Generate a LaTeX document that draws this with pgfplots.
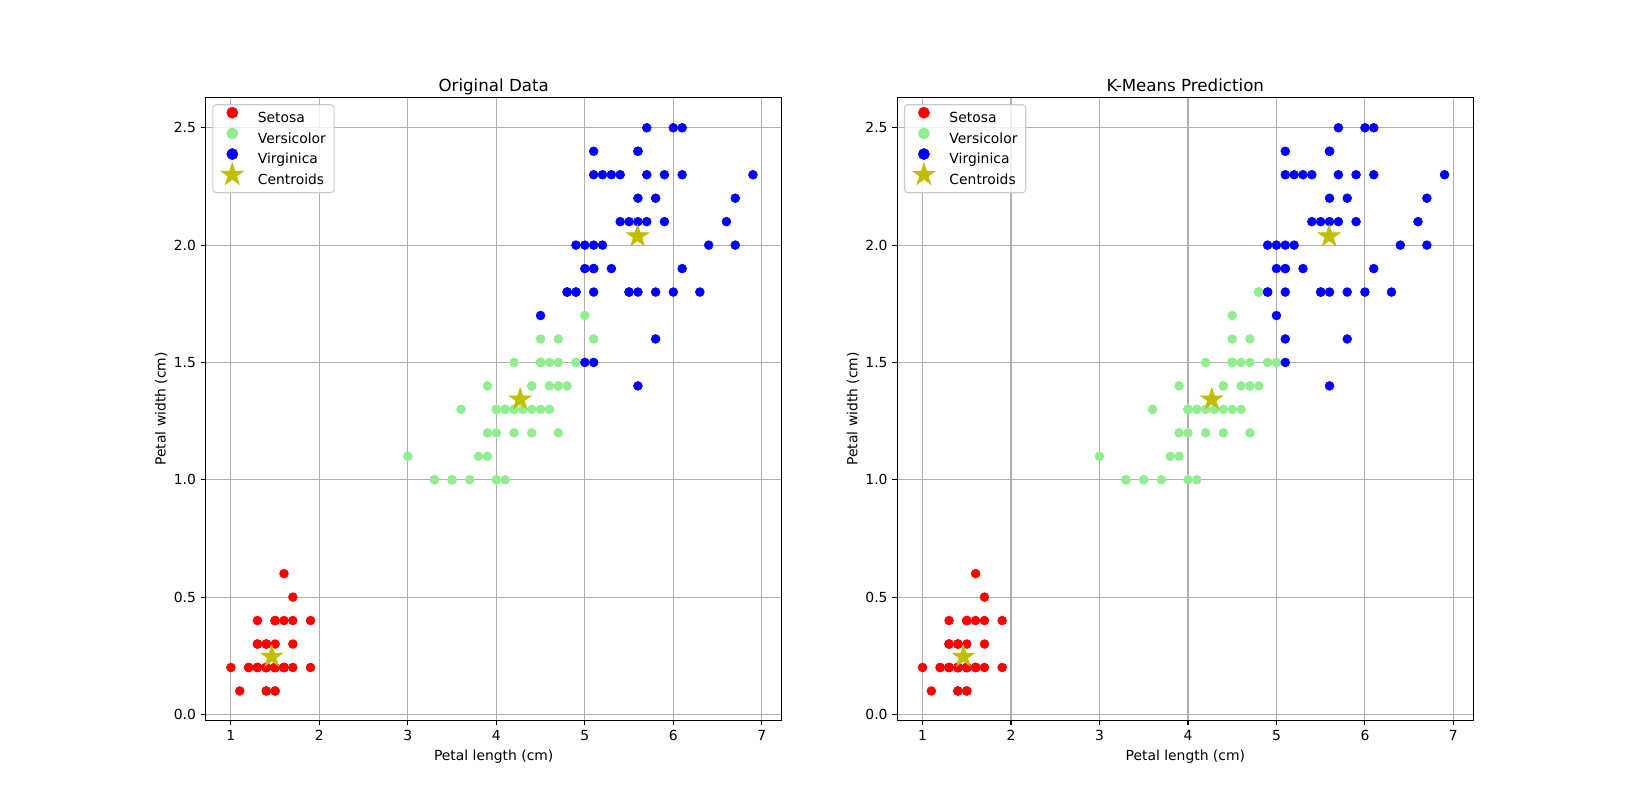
\documentclass[border=0pt]{standalone}
\usepackage{fontspec}
\setmainfont{DejaVu Sans}
\usepackage{pgfplots}
\pgfplotsset{compat=1.18}
\usepackage{pgfplotstable}

\definecolor{mplred}{rgb}{1,0,0}
\definecolor{lgreen}{HTML}{90EE90}
\definecolor{mplblue}{rgb}{0,0,1}
\definecolor{mplolive}{rgb}{0.75,0.75,0}
\definecolor{gridgray}{HTML}{B0B0B0}

\pgfdeclareplotmark{fstar}{%
  \pgfpathmoveto{\pgfqpointpolar{90}{\pgfplotmarksize}}%
  \pgfpathlineto{\pgfqpointpolar{126}{0.382\pgfplotmarksize}}%
  \pgfpathlineto{\pgfqpointpolar{162}{\pgfplotmarksize}}%
  \pgfpathlineto{\pgfqpointpolar{198}{0.382\pgfplotmarksize}}%
  \pgfpathlineto{\pgfqpointpolar{234}{\pgfplotmarksize}}%
  \pgfpathlineto{\pgfqpointpolar{270}{0.382\pgfplotmarksize}}%
  \pgfpathlineto{\pgfqpointpolar{306}{\pgfplotmarksize}}%
  \pgfpathlineto{\pgfqpointpolar{342}{0.382\pgfplotmarksize}}%
  \pgfpathlineto{\pgfqpointpolar{18}{\pgfplotmarksize}}%
  \pgfpathlineto{\pgfqpointpolar{54}{0.382\pgfplotmarksize}}%
  \pgfpathclose
  \pgfusepathqfillstroke
}

\pgfplotstableread{
x y
1.4 0.2
1.4 0.2
1.3 0.2
1.5 0.2
1.4 0.2
1.7 0.4
1.4 0.3
1.5 0.2
1.4 0.2
1.5 0.1
1.5 0.2
1.6 0.2
1.4 0.1
1.1 0.1
1.2 0.2
1.5 0.4
1.3 0.4
1.4 0.3
1.7 0.3
1.5 0.3
1.7 0.2
1.5 0.4
1.0 0.2
1.7 0.5
1.9 0.2
1.6 0.2
1.6 0.4
1.5 0.2
1.4 0.2
1.6 0.2
1.6 0.2
1.5 0.4
1.5 0.1
1.4 0.2
1.5 0.2
1.2 0.2
1.3 0.2
1.4 0.1
1.3 0.2
1.5 0.2
1.3 0.3
1.3 0.3
1.3 0.2
1.6 0.6
1.9 0.4
1.4 0.3
1.6 0.2
1.4 0.2
1.5 0.2
1.4 0.2
}\setosa

\pgfplotstableread{
x y
4.7 1.4
4.5 1.5
4.9 1.5
4.0 1.3
4.6 1.5
4.5 1.3
4.7 1.6
3.3 1.0
4.6 1.3
3.9 1.4
3.5 1.0
4.2 1.5
4.0 1.0
4.7 1.4
3.6 1.3
4.4 1.4
4.5 1.5
4.1 1.0
4.5 1.5
3.9 1.1
4.8 1.8
4.0 1.3
4.9 1.5
4.7 1.2
4.3 1.3
4.4 1.4
4.8 1.4
5.0 1.7
4.5 1.5
3.5 1.0
3.8 1.1
3.7 1.0
3.9 1.2
5.1 1.6
4.5 1.5
4.5 1.6
4.7 1.5
4.4 1.3
4.1 1.3
4.0 1.3
4.4 1.2
4.6 1.4
4.0 1.2
3.3 1.0
4.2 1.3
4.2 1.2
4.2 1.3
4.3 1.3
3.0 1.1
4.1 1.3
}\versicolor

\pgfplotstableread{
x y
6.0 2.5
5.1 1.9
5.9 2.1
5.6 1.8
5.8 2.2
6.6 2.1
4.5 1.7
6.3 1.8
5.8 1.8
6.1 2.5
5.1 2.0
5.3 1.9
5.5 2.1
5.0 2.0
5.1 2.4
5.3 2.3
5.5 1.8
6.7 2.2
6.9 2.3
5.0 1.5
5.7 2.3
4.9 2.0
6.7 2.0
4.9 1.8
5.7 2.1
6.0 1.8
4.8 1.8
4.9 1.8
5.6 2.1
5.8 1.6
6.1 1.9
6.4 2.0
5.6 2.2
5.1 1.5
5.6 1.4
6.1 2.3
5.6 2.4
5.5 1.8
4.8 1.8
5.4 2.1
5.6 2.4
5.1 2.3
5.1 1.9
5.9 2.3
5.7 2.5
5.2 2.3
5.0 1.9
5.2 2.0
5.4 2.3
5.1 1.8
}\virginica

\pgfplotstableread{
x y
4.7 1.4
4.5 1.5
4.9 1.5
4.0 1.3
4.6 1.5
4.5 1.3
4.7 1.6
3.3 1.0
4.6 1.3
3.9 1.4
3.5 1.0
4.2 1.5
4.0 1.0
4.7 1.4
3.6 1.3
4.4 1.4
4.5 1.5
4.1 1.0
4.5 1.5
3.9 1.1
4.8 1.8
4.0 1.3
4.9 1.5
4.7 1.2
4.3 1.3
4.4 1.4
4.8 1.4
4.5 1.5
3.5 1.0
3.8 1.1
3.7 1.0
3.9 1.2
4.5 1.5
4.5 1.6
4.7 1.5
4.4 1.3
4.1 1.3
4.0 1.3
4.4 1.2
4.6 1.4
4.0 1.2
3.3 1.0
4.2 1.3
4.2 1.2
4.2 1.3
4.3 1.3
3.0 1.1
4.1 1.3
4.5 1.7
5.0 1.5
4.8 1.8
4.8 1.8
}\kmgreen

\pgfplotstableread{
x y
5.0 1.7
5.1 1.6
6.0 2.5
5.1 1.9
5.9 2.1
5.6 1.8
5.8 2.2
6.6 2.1
6.3 1.8
5.8 1.8
6.1 2.5
5.1 2.0
5.3 1.9
5.5 2.1
5.0 2.0
5.1 2.4
5.3 2.3
5.5 1.8
6.7 2.2
6.9 2.3
5.7 2.3
4.9 2.0
6.7 2.0
4.9 1.8
5.7 2.1
6.0 1.8
4.9 1.8
5.6 2.1
5.8 1.6
6.1 1.9
6.4 2.0
5.6 2.2
5.1 1.5
5.6 1.4
6.1 2.3
5.6 2.4
5.5 1.8
5.4 2.1
5.6 2.4
5.1 2.3
5.1 1.9
5.9 2.3
5.7 2.5
5.2 2.3
5.0 1.9
5.2 2.0
5.4 2.3
5.1 1.8
}\kmblue

\pgfplotstableread{
x y
1.462 0.246
4.26923 1.34231
5.59583 2.0375
}\centroids

\pgfplotsset{
 legimg/.style={legend image code/.code={%
    \path[draw=none, fill=none] (0pt,3.6pt) -- (16pt,3.6pt);
    \draw[overlay, sharp corners, line width=0.4pt, fill opacity=1, draw opacity=1, mark repeat=2, mark phase=2, ##1, mark size=#1]
      plot coordinates {(0pt,3.6pt) (8pt,3.6pt) (16pt,3.6pt)};
  }},
 iris/.style={
  scale only axis, width=414.72pt, height=448.56pt,
  xmin=0.715, xmax=7.225, ymin=-0.025, ymax=2.63,
  xtick={1,2,3,4,5,6,7}, ytick={0,0.5,1,1.5,2,2.5},
  grid=major,
  major grid style={draw=gridgray, line width=0.8pt},
  axis line style={line width=0.8pt},
  every tick/.style={black, line width=0.8pt},
  tick align=outside, major tick length=3.5pt,
  xtick pos=left, ytick pos=left,
  /pgf/number format/assume math mode=true,
  ticklabel style={font=\fontsize{10}{12}\selectfont},
  y tick label style={/pgf/number format/.cd, fixed, fixed zerofill, precision=1, /tikz/.cd},
  label style={font=\fontsize{10}{12}\selectfont},
  ylabel style={yshift=-2.3pt},
  every axis title/.style={font=\fontsize{12}{14}\selectfont, at={(0.5,1)}, anchor=base, yshift=4.5pt, inner sep=0pt},
  xlabel={Petal length (cm)}, ylabel={Petal width (cm)},
  legend cell align=left,
  legend style={
    at={(0.0115,0.989)}, anchor=north west,
    draw=black!20, line width=0.8pt, rounded corners=2.5pt,
    fill=white, fill opacity=0.8, draw opacity=1, text opacity=1,
    font=\fontsize{10}{12}\selectfont,
    inner xsep=6pt, inner ysep=4.35pt,
    column sep=10.4pt, row sep=4.9pt,
    nodes={inner sep=0pt, text height=8.4pt, text depth=1.6pt, draw=none},
  },
 }
}

\begin{document}
\begin{tikzpicture}
\path[use as bounding box] (0pt,0pt) rectangle (1178.64pt,582.48pt);
\begin{axis}[iris, at={(148.10pt,63.86pt)}, anchor=south west, title={Original Data}]
\addplot[only marks, mark=*, mark size=3.2pt, line width=0.4pt, color=mplred, legimg=4pt] table {\setosa};
\addlegendentry{Setosa}
\addplot[only marks, mark=*, mark size=3.2pt, line width=0.4pt, color=lgreen, legimg=4pt] table {\versicolor};
\addlegendentry{Versicolor}
\addplot[only marks, mark=*, mark size=3.2pt, line width=0.4pt, color=mplblue, legimg=4pt] table {\virginica};
\addlegendentry{Virginica}
\addplot[only marks, mark=fstar, mark size=8.4pt, color=mplolive, line width=0.4pt, legimg=8.6pt] table {\centroids};
\addlegendentry{Centroids}
\end{axis}
\begin{axis}[iris, at={(646.06pt,63.86pt)}, anchor=south west, title={K-Means Prediction}]
\addplot[only marks, mark=*, mark size=3.2pt, line width=0.4pt, color=mplred, legimg=4pt] table {\setosa};
\addlegendentry{Setosa}
\addplot[only marks, mark=*, mark size=3.2pt, line width=0.4pt, color=lgreen, legimg=4pt] table {\kmgreen};
\addlegendentry{Versicolor}
\addplot[only marks, mark=*, mark size=3.2pt, line width=0.4pt, color=mplblue, legimg=4pt] table {\kmblue};
\addlegendentry{Virginica}
\addplot[only marks, mark=fstar, mark size=8.4pt, color=mplolive, line width=0.4pt, legimg=8.6pt] table {\centroids};
\addlegendentry{Centroids}
\end{axis}
\end{tikzpicture}
\end{document}
